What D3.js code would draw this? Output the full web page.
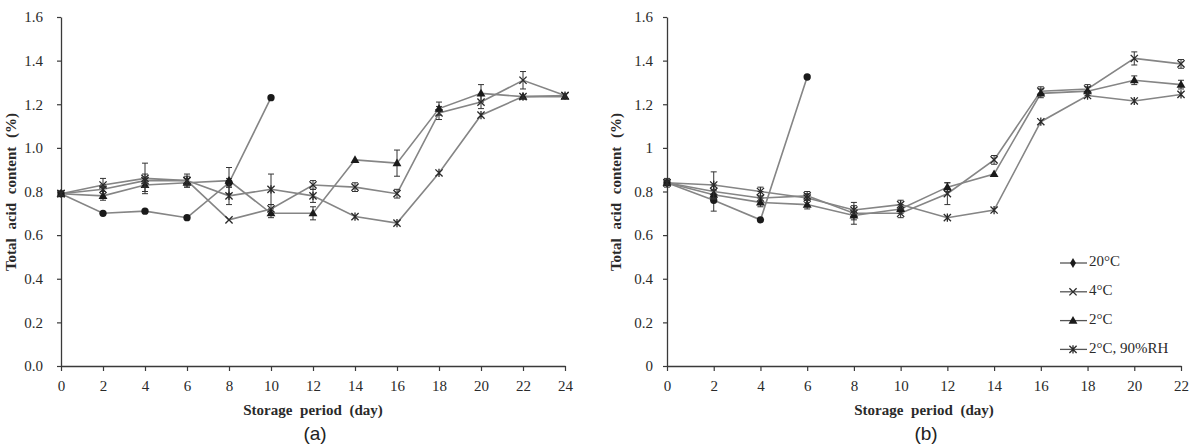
<!DOCTYPE html>
<html><head><meta charset="utf-8">
<script src="https://cdnjs.cloudflare.com/ajax/libs/d3/7.8.5/d3.min.js"></script>
<style>
body{margin:0;background:#fff;}
svg{display:block;}
</style></head>
<body>
<svg id="chart" width="1202" height="446"></svg>
<script>
// ---------- data ----------
const seriesNames = ["20°C", "4°C", "2°C", "2°C, 90%RH"];

// panel (a)
const daysA = [0,2,4,6,8,10,12,14,16,18,20,22,24];
const a20   = [0.79,0.70,0.71,0.68,0.84,1.23];
const a20e  = [0.01,0.01,0.01,0.01,0.02,0.01];
const a4    = [0.79,0.83,0.86,0.85,0.67,0.72,0.83,0.82,0.79,1.16,1.21,1.31,1.24];
const a4e   = [0.01,0.03,0.07,0.03,0.01,0.02,0.02,0.02,0.02,0.03,0.03,0.04,0.01];
const a2    = [0.79,0.78,0.83,0.84,0.85,0.70,0.70,0.945,0.93,1.18,1.25,1.235,1.235];
const a2e   = [0.01,0.02,0.03,0.02,0.06,0.02,0.03,0.01,0.06,0.03,0.04,0.01,0.01];
const a2rh  = [0.79,0.81,0.85,0.85,0.78,0.81,0.78,0.685,0.655,0.885,1.15,1.235,1.24];
const a2rhe = [0.01,0.02,0.03,0.02,0.04,0.07,0.03,0.01,0.01,0.01,0.01,0.01,0.01];

// panel (b)
const daysB = [0,2,4,6,8,10,12,14,16,18,20,22];
const b20   = [0.84,0.76,0.67,1.325];
const b20e  = [0.01,0.05,0.01,0.01];
const b4    = [0.84,0.80,0.77,0.78,0.70,0.70,0.79,0.945,1.26,1.27,1.41,1.385];
const b4e   = [0.01,0.03,0.03,0.02,0.05,0.02,0.05,0.02,0.02,0.02,0.03,0.02];
const b2    = [0.84,0.785,0.75,0.74,0.69,0.72,0.82,0.88,1.25,1.26,1.31,1.29];
const b2e   = [0.01,0.02,0.02,0.02,0.02,0.02,0.02,0.01,0.02,0.02,0.02,0.02];
const b2rh  = [0.84,0.83,0.80,0.77,0.715,0.74,0.68,0.715,1.12,1.24,1.215,1.245];
const b2rhe = [0.02,0.06,0.02,0.02,0.02,0.02,0.01,0.01,0.01,0.01,0.01,0.01];

const yTicks = [0,0.2,0.4,0.6,0.8,1.0,1.2,1.4,1.6];
const yTickLabelsA = ["0.0","0.2","0.4","0.6","0.8","1.0","1.2","1.4","1.6"];
const yTickLabelsB = ["0","0.2","0.4","0.6","0.8","1","1.2","1.4","1.6"];
const yTitle = "Total acid content (%)";
const xTitle = "Storage period (day)";
const panelLabels = ["(a)", "(b)"];

// ---------- drawing ----------
const svg = d3.select("#chart");
const serif = "'Liberation Serif','Times New Roman',serif";
const lineColor = "#858585";
const markColor = "#1a1a1a";
const axisColor = "#3a3a3a";

const panels = [
  {days: daysA, data: [[a20,a20e],[a4,a4e],[a2,a2e],[a2rh,a2rhe]], x0: 61, x1: 565,
   yLabels: yTickLabelsA, pad: 14, yTitleX: 13, label: panelLabels[0], legend: false},
  {days: daysB, data: [[b20,b20e],[b4,b4e],[b2,b2e],[b2rh,b2rhe]], x0: 667, x1: 1181,
   yLabels: yTickLabelsB, pad: 10, yTitleX: 618, label: panelLabels[1], legend: true}
];

const y = d3.scaleLinear().domain([0,1.6]).range([366,17]);

function drawMarker(g, type, cx, cy) {
  if (type === 0) {
    g.append("path").attr("d", d3.symbol(d3.symbolCircle, 42)()).attr("transform", `translate(${cx},${cy})`)
      .attr("fill", markColor);
  } else if (type === 2) {
    g.append("path").attr("d", d3.symbol(d3.symbolTriangle, 34)()).attr("transform", `translate(${cx},${cy+0.5})`)
      .attr("fill", markColor);
  } else {
    const s = 3.6;
    let d = `M${cx-s},${cy-s}L${cx+s},${cy+s}M${cx-s},${cy+s}L${cx+s},${cy-s}`;
    if (type === 3) d += `M${cx},${cy-s-0.5}L${cx},${cy+s+0.5}`;
    g.append("path").attr("d", d).attr("stroke", "#2a2a2a").attr("stroke-width", 1.3).attr("fill", "none");
  }
}

panels.forEach((p) => {
  const x = d3.scaleLinear().domain([0, p.days[p.days.length-1]]).range([p.x0, p.x1]);
  const g = svg.append("g");

  // axes
  const yAxis = d3.axisLeft(y).tickValues(yTicks).tickSize(4).tickSizeOuter(0).tickPadding(p.pad)
      .tickFormat((d,i) => p.yLabels[i]);
  const ya = g.append("g").attr("transform", `translate(${p.x0},0)`).call(yAxis);
  const xAxis = d3.axisBottom(x).tickValues(p.days).tickSize(5).tickSizeOuter(0).tickPadding(9);
  const xa = g.append("g").attr("transform", `translate(0,366)`).call(xAxis);
  [ya, xa].forEach(a => {
    a.selectAll("path.domain").attr("stroke", axisColor).attr("stroke-width", 1.3);
    a.selectAll(".tick line").attr("stroke", axisColor).attr("stroke-width", 1.2);
    a.selectAll(".tick text").attr("fill", "#2a2a2a").style("font-family", serif).style("font-size", "15px");
  });

  // titles
  g.append("text").attr("transform", `translate(${p.yTitleX},192) rotate(-90)`)
    .attr("text-anchor", "middle").attr("dominant-baseline", "middle")
    .style("font-family", serif).style("font-weight", "bold").style("font-size", "15px")
    .style("word-spacing", "5px").attr("fill", "#2a2a2a").text(yTitle);
  g.append("text").attr("x", (p.x0+p.x1)/2).attr("y", 415).attr("text-anchor", "middle")
    .style("font-family", serif).style("font-weight", "bold").style("font-size", "15px")
    .style("word-spacing", "4px").attr("fill", "#2a2a2a").text(xTitle);
  g.append("text").attr("x", (p.x0+p.x1)/2 + 2).attr("y", 440).attr("text-anchor", "middle")
    .style("font-family", "'Liberation Sans',Arial,sans-serif").style("font-size", "19px")
    .attr("fill", "#222").text(p.label);

  // series: lines first
  const line = d3.line().x((d,i) => x(p.days[i])).y(d => y(d));
  p.data.forEach(([vals]) => {
    g.append("path").attr("d", line(vals)).attr("fill", "none")
      .attr("stroke", lineColor).attr("stroke-width", 1.6);
  });
  // error bars and markers
  p.data.forEach(([vals, errs], si) => {
    vals.forEach((v, i) => {
      const cx = x(p.days[i]);
      const e = errs[i];
      if (e > 0.012) {
        const yt = y(v+e), yb = y(v-e);
        g.append("path").attr("d", `M${cx},${yt}L${cx},${yb}M${cx-3},${yt}L${cx+3},${yt}M${cx-3},${yb}L${cx+3},${yb}`)
          .attr("stroke", "#333").attr("stroke-width", 1).attr("fill", "none");
      }
      drawMarker(g, si, cx, y(v));
    });
  });

  // legend
  if (p.legend) {
    const lg = svg.append("g");
    seriesNames.forEach((name, i) => {
      const ly = 263 + i*28.8;
      lg.append("line").attr("x1", 1060).attr("x2", 1087).attr("y1", ly).attr("y2", ly)
        .attr("stroke", "#555").attr("stroke-width", 1.3);
      const mg = lg.append("g");
      if (i === 0) {
        mg.append("path").attr("d", d3.symbol(d3.symbolDiamond, 30)()).attr("transform", `translate(1073,${ly})`).attr("fill", markColor);
      } else drawMarker(mg, i, 1073, ly);
      lg.append("text").attr("x", 1089).attr("y", ly).attr("dominant-baseline", "middle")
        .style("font-family", serif).style("font-size", "15px").attr("fill", "#2a2a2a").text(name);
    });
  }
});
</script>
</body></html>
